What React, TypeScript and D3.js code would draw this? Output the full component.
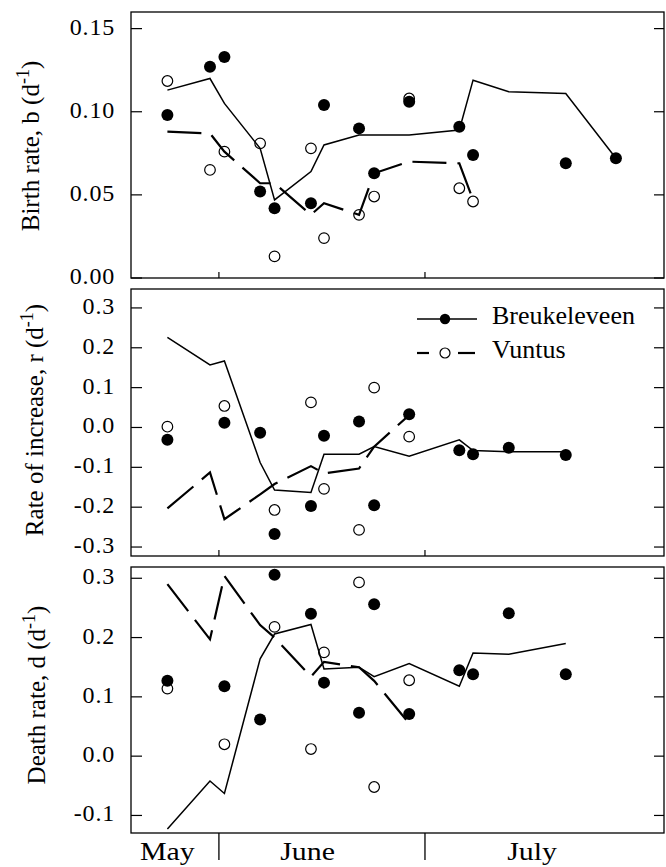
import { useEffect, useRef } from "react"
import * as d3 from "d3"

// sampling dates, days after 1 May (1 June = 31, 1 July = 61)
const sampleDays = [23.5, 29.7, 31.8, 37.0, 39.1, 44.4, 46.3, 51.4, 53.6, 58.7, 66.0, 68.0, 73.2, 81.5, 88.8]
const monthEdges = [31, 61]
const monthLabels = ["May", "June", "July"]
const monthMid = [23.5, 43.9, 76.6]

const N = null

// birth rate b (d-1)
const birthObsB = [0.098, 0.127, 0.133, 0.052, 0.042, 0.045, 0.104, 0.090, 0.063, 0.106, 0.091, 0.074, N, 0.069, 0.072]
const birthModB = [0.113, 0.120, 0.105, 0.078, 0.047, 0.064, 0.080, 0.086, N, 0.086, 0.089, 0.119, 0.112, 0.111, 0.072]
const birthObsV = [0.1185, 0.065, 0.076, 0.081, 0.013, 0.078, 0.024, 0.038, 0.049, 0.108, 0.054, 0.046, N, N, N]
const birthModV = [0.088, 0.087, 0.076, 0.057, 0.057, 0.038, 0.045, 0.038, 0.063, 0.070, 0.069, 0.047, N, N, N]

// rate of increase r (d-1)
const rateObsB = [-0.031, N, 0.012, -0.013, -0.267, -0.197, -0.021, 0.015, -0.195, 0.033, -0.057, -0.067, -0.051, -0.069, N]
const rateModB = [0.226, 0.157, 0.167, -0.088, -0.157, -0.163, -0.067, -0.067, -0.048, -0.072, -0.031, -0.058, -0.061, -0.061, N]
const rateObsV = [0.002, N, 0.054, N, -0.207, 0.063, -0.154, -0.257, 0.100, -0.023, N, N, N, N, N]
const rateModV = [-0.203, -0.113, -0.230, -0.168, -0.142, -0.097, -0.115, -0.103, -0.048, 0.031, N, N, N, N, N]

// death rate d (d-1)
const deathObsB = [0.127, N, 0.118, 0.062, 0.306, 0.240, 0.124, 0.073, 0.256, 0.071, 0.145, 0.138, 0.241, 0.138, N]
const deathModB = [-0.123, -0.042, -0.063, 0.164, 0.206, 0.222, 0.147, 0.150, 0.134, 0.156, 0.118, 0.174, 0.172, 0.190, N]
const deathObsV = [0.114, N, 0.020, N, 0.218, 0.012, 0.175, 0.293, -0.052, 0.128, N, N, N, N, N]
const deathModV = [0.290, 0.197, 0.304, 0.221, 0.200, 0.134, 0.159, 0.150, 0.127, 0.055, N, N, N, N, N]

const birthTicks = [0, 0.05, 0.1, 0.15]
const rateTicks = [-0.3, -0.2, -0.1, 0, 0.1, 0.2, 0.3]
const deathTicks = [-0.1, 0, 0.1, 0.2, 0.3]

const seriesNames = ["Breukeleveen", "Vuntus"]

const FONT = "Liberation Serif, Times New Roman, DejaVu Serif, serif"
const W = 666
const H = 867
const LEFT = 131
const RIGHT = 664

type Panel = {
    label: string
    domain: [number, number]
    top: number
    bottom: number
    ticks: number[]
    fmt: string
    obsB: (number | null)[]
    modB: (number | null)[]
    obsV: (number | null)[]
    modV: (number | null)[]
    titleX: number
    titleY: number
}

const panels: Panel[] = [
    { label: "Birth rate, b (d", domain: [0, 0.16], top: 12, bottom: 278, ticks: birthTicks, fmt: ".2f",
      obsB: birthObsB, modB: birthModB, obsV: birthObsV, modV: birthModV, titleX: 39, titleY: 146 },
    { label: "Rate of increase, r (d", domain: [-0.3225, 0.3475], top: 289, bottom: 556, ticks: rateTicks, fmt: ".1f",
      obsB: rateObsB, modB: rateModB, obsV: rateObsV, modV: rateModV, titleX: 43, titleY: 420 },
    { label: "Death rate, d (d", domain: [-0.1296, 0.319], top: 567, bottom: 833, ticks: deathTicks, fmt: ".1f",
      obsB: deathObsB, modB: deathModB, obsV: deathObsV, modV: deathModV, titleX: 45, titleY: 695 },
]

function pts(vals: (number | null)[]) {
    return vals
        .map((v, i) => ({ day: sampleDays[i], v }))
        .filter(d => d.v !== null) as { day: number; v: number }[]
}

export default function App() {
    const ref = useRef<SVGSVGElement>(null)

    useEffect(() => {
        const svg = d3.select(ref.current)
        svg.selectAll("*").remove()

        const x = d3.scaleLinear().domain([18.2, 95.8]).range([LEFT, RIGHT])

        panels.forEach((p, pi) => {
            const y = d3.scaleLinear().domain(p.domain).range([p.bottom, p.top])
            const g = svg.append("g")
            const fmt = d3.format(p.fmt)

            // frame
            g.append("rect")
                .attr("x", LEFT).attr("y", p.top)
                .attr("width", RIGHT - LEFT).attr("height", p.bottom - p.top)
                .attr("fill", "none").attr("stroke", "#000").attr("stroke-width", 1.3)

            // y ticks, both sides pointing in
            p.ticks.forEach(t => {
                const yy = y(t)
                g.append("line").attr("x1", LEFT).attr("x2", LEFT + 11).attr("y1", yy).attr("y2", yy)
                    .attr("stroke", "#000").attr("stroke-width", 1.2)
                g.append("line").attr("x1", RIGHT - 10).attr("x2", RIGHT).attr("y1", yy).attr("y2", yy)
                    .attr("stroke", "#000").attr("stroke-width", 1.2)
                g.append("text")
                    .attr("x", LEFT - 16).attr("y", yy)
                    .attr("dy", "0.25em")
                    .attr("text-anchor", "end")
                    .style("font-family", FONT).style("font-size", "24px")
                    .style("letter-spacing", "0.8px")
                    .text(fmt(t).replace("\u2212", "-"))
            })

            // month boundaries
            monthEdges.forEach(m => {
                if (pi < 2) {
                    g.append("line").attr("x1", x(m)).attr("x2", x(m)).attr("y1", p.bottom - 6).attr("y2", p.bottom)
                        .attr("stroke", "#000").attr("stroke-width", 1.2)
                } else {
                    g.append("line").attr("x1", x(m)).attr("x2", x(m)).attr("y1", p.bottom).attr("y2", p.bottom + 27)
                        .attr("stroke", "#000").attr("stroke-width", 1.3)
                }
            })

            // axis title
            const title = g.append("text")
                .attr("transform", `translate(${p.titleX},${p.titleY}) rotate(-90)`)
                .attr("text-anchor", "middle")
                .style("font-family", FONT).style("font-size", "25px")
            title.append("tspan").text(p.label)
            title.append("tspan").attr("dy", -10).style("font-size", "18px").text("-1")
            title.append("tspan").attr("dy", 10).text(")")

            const line = d3.line<{ day: number; v: number }>()
                .x(d => x(d.day))
                .y(d => y(d.v))

            g.append("path")
                .datum(pts(p.modB))
                .attr("d", line)
                .attr("fill", "none").attr("stroke", "#000").attr("stroke-width", 1.5)
                .attr("stroke-linejoin", "miter")

            g.append("path")
                .datum(pts(p.modV))
                .attr("d", line)
                .attr("fill", "none").attr("stroke", "#000").attr("stroke-width", 2.2)
                .attr("stroke-dasharray", "34,11")

            g.selectAll(".dotB")
                .data(pts(p.obsB))
                .join("circle")
                .attr("cx", d => x(d.day)).attr("cy", d => y(d.v))
                .attr("r", 6).attr("fill", "#000")

            g.selectAll(".dotV")
                .data(pts(p.obsV))
                .join("circle")
                .attr("cx", d => x(d.day)).attr("cy", d => y(d.v))
                .attr("r", 5.3).attr("fill", "none").attr("stroke", "#000").attr("stroke-width", 1.2)

            if (pi === 1) {
                // legend
                const lg = g.append("g")
                lg.append("line").attr("x1", 417).attr("x2", 477).attr("y1", 319).attr("y2", 319)
                    .attr("stroke", "#000").attr("stroke-width", 1.5)
                lg.append("circle").attr("cx", 445).attr("cy", 319).attr("r", 5.2).attr("fill", "#000")
                lg.append("text").attr("x", 492).attr("y", 324)
                    .style("font-family", FONT).style("font-size", "26px").text(seriesNames[0])

                lg.append("line").attr("x1", 417).attr("x2", 429).attr("y1", 353).attr("y2", 353)
                    .attr("stroke", "#000").attr("stroke-width", 2.2)
                lg.append("line").attr("x1", 458).attr("x2", 475).attr("y1", 353).attr("y2", 353)
                    .attr("stroke", "#000").attr("stroke-width", 2.2)
                lg.append("circle").attr("cx", 445).attr("cy", 353).attr("r", 5).attr("fill", "none")
                    .attr("stroke", "#000").attr("stroke-width", 1.2)
                lg.append("text").attr("x", 492).attr("y", 358)
                    .style("font-family", FONT).style("font-size", "26px").text(seriesNames[1])
            }
        })

        // month labels
        monthLabels.forEach((m, i) => {
            svg.append("text")
                .attr("transform", `translate(${x(monthMid[i])},860) scale(1.15,1)`)
                .attr("text-anchor", "middle")
                .style("font-family", FONT).style("font-size", "26px")
                .text(m)
        })
    }, [])

    return (
        <svg
            ref={ref}
            width={W}
            height={H}
            style={{ position: "absolute", left: 0, top: 0, background: "#fff" }}
        />
    )
}
